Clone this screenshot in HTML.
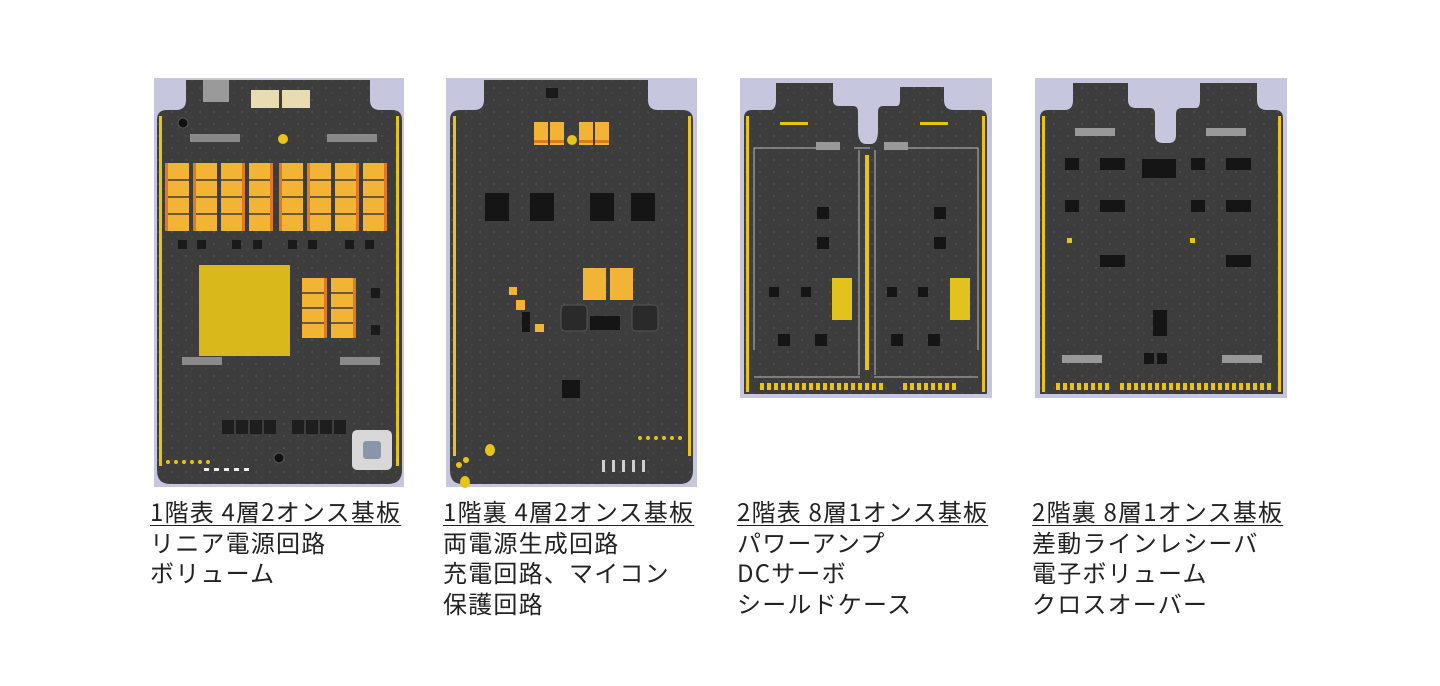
<!DOCTYPE html>
<html><head><meta charset="utf-8"><style>
body{margin:0;width:1440px;height:686px;background:#fff;overflow:hidden;position:relative;font-family:"Noto Sans CJK JP","Liberation Sans",sans-serif;}
.cap{position:absolute;top:496px;font-size:24px;line-height:30.5px;letter-spacing:1.2px;color:#222;white-space:nowrap;}
.cap u{text-decoration:underline;text-underline-offset:4px;text-decoration-thickness:1px;}
svg{position:absolute;left:0;top:0}
</style></head><body>
<svg width="1440" height="686" viewBox="0 0 1440 686">
<defs>
<pattern id="dots" width="14" height="12" patternUnits="userSpaceOnUse"><rect x="3" y="3" width="2" height="2" fill="#6a6a6a"/><rect x="9" y="8" width="2" height="2" fill="#505050"/></pattern>
</defs>
<!-- Board 1 -->
<rect x="154" y="78" width="250" height="409" fill="#c6c6de"/>
<path d="M186 80 H370 V100 Q370 110 380 110 H392 Q402 110 402 120 V470 Q402 484 388 484 H170 Q157 484 157 470 V120 Q157 110 167 110 H176 Q186 110 186 100 Z" fill="#3d3d3d"/>
<path d="M186 80 H370 V100 Q370 110 380 110 H392 Q402 110 402 120 V470 Q402 484 388 484 H170 Q157 484 157 470 V120 Q157 110 167 110 H176 Q186 110 186 100 Z" fill="url(#dots)" opacity=".3"/>
<rect x="159" y="116" width="3" height="350" fill="#e8c414"/><rect x="396" y="116" width="3" height="350" fill="#e8c414"/>
<rect x="203" y="80" width="26" height="22" fill="#9a9a9a"/>
<rect x="251" y="90" width="28" height="18" fill="#e8dcb0"/><rect x="282" y="90" width="28" height="18" fill="#e8dcb0"/>
<circle cx="183" cy="123" r="5" fill="#111" stroke="#555"/>
<circle cx="283" cy="139" r="5" fill="#e8c414"/>
<rect x="190" y="134" width="50" height="8" fill="#8a8a8a"/><rect x="327" y="134" width="50" height="8" fill="#8a8a8a"/>
<g fill="#f3b436">
<rect x="165" y="163" width="24" height="68"/><rect x="193" y="163" width="24" height="68"/><rect x="221" y="163" width="24" height="68"/><rect x="249" y="163" width="24" height="68"/>
<rect x="279" y="163" width="24" height="68"/><rect x="307" y="163" width="24" height="68"/><rect x="335" y="163" width="24" height="68"/><rect x="363" y="163" width="24" height="68"/>
<rect x="302" y="278" width="25" height="60"/><rect x="331" y="278" width="25" height="60"/>
</g>
<g stroke="#3d3d3d" stroke-width="1.5"><path d="M165 180H387M165 197H387M165 214H387M302 293H356M302 308H356M302 323H356"/></g>
<g fill="#e07a20"><rect x="165" y="163" width="3" height="68"/><rect x="193" y="163" width="3" height="68"/><rect x="242" y="163" width="3" height="68"/><rect x="270" y="163" width="3" height="68"/><rect x="279" y="163" width="3" height="68"/><rect x="307" y="163" width="3" height="68"/><rect x="356" y="163" width="3" height="68"/><rect x="384" y="163" width="3" height="68"/><rect x="324" y="278" width="3" height="60"/><rect x="353" y="278" width="3" height="60"/></g>
<g fill="#1a1a1a"><rect x="178" y="240" width="9" height="9"/><rect x="197" y="240" width="9" height="9"/><rect x="232" y="240" width="9" height="9"/><rect x="253" y="240" width="9" height="9"/><rect x="288" y="240" width="9" height="9"/><rect x="308" y="240" width="9" height="9"/><rect x="345" y="240" width="9" height="9"/><rect x="365" y="240" width="9" height="9"/><rect x="371" y="288" width="9" height="10"/><rect x="371" y="325" width="9" height="10"/></g>
<rect x="199" y="265" width="91" height="91" fill="#d9b81c"/>
<rect x="182" y="357" width="40" height="8" fill="#8a8a8a"/><rect x="340" y="357" width="40" height="8" fill="#8a8a8a"/>
<g fill="#1e1e1e"><rect x="222" y="420" width="12" height="14"/><rect x="236" y="420" width="12" height="14"/><rect x="250" y="420" width="12" height="14"/><rect x="264" y="420" width="12" height="14"/><rect x="292" y="420" width="12" height="14"/><rect x="306" y="420" width="12" height="14"/><rect x="320" y="420" width="12" height="14"/><rect x="334" y="420" width="12" height="14"/></g>
<circle cx="279" cy="458" r="5" fill="#111" stroke="#555"/>
<rect x="352" y="430" width="40" height="40" rx="5" fill="#d8d8d8"/><rect x="363" y="441" width="18" height="18" rx="3" fill="#8896a8"/>
<g fill="#e8c414"><circle cx="168" cy="462" r="2"/><circle cx="176" cy="462" r="2"/><circle cx="184" cy="462" r="2"/><circle cx="192" cy="462" r="2"/><circle cx="200" cy="462" r="2"/><circle cx="208" cy="462" r="2"/></g>
<g fill="#eee"><rect x="204" y="468" width="5" height="3"/><rect x="214" y="468" width="5" height="3"/><rect x="224" y="468" width="5" height="3"/><rect x="234" y="468" width="5" height="3"/><rect x="244" y="468" width="5" height="3"/></g>

<!-- Board 2 -->
<rect x="446" y="78" width="251" height="409" fill="#c6c6de"/>
<path d="M484 80 H648 V100 Q648 110 658 110 H682 Q693 110 693 120 V470 Q693 484 680 484 H462 Q450 484 450 470 V120 Q450 110 460 110 H474 Q484 110 484 100 Z" fill="#3d3d3d"/>
<path d="M484 80 H648 V100 Q648 110 658 110 H682 Q693 110 693 120 V470 Q693 484 680 484 H462 Q450 484 450 470 V120 Q450 110 460 110 H474 Q484 110 484 100 Z" fill="url(#dots)" opacity=".3"/>
<rect x="453" y="116" width="3" height="340" fill="#e8c414"/><rect x="688" y="116" width="3" height="340" fill="#e8c414"/>
<g fill="#f3b436"><rect x="534" y="122" width="14" height="23"/><rect x="550" y="122" width="14" height="23"/><rect x="579" y="122" width="14" height="23"/><rect x="595" y="122" width="14" height="23"/><rect x="583" y="268" width="23" height="32"/><rect x="610" y="268" width="23" height="32"/><rect x="516" y="300" width="9" height="10"/><rect x="509" y="287" width="8" height="8"/><rect x="535" y="324" width="9" height="8"/></g>
<g fill="#e07a20"><rect x="534" y="140" width="14" height="3"/><rect x="550" y="140" width="14" height="3"/><rect x="579" y="140" width="14" height="3"/><rect x="595" y="140" width="14" height="3"/></g>
<circle cx="572" cy="140" r="5" fill="#e8c414"/>
<rect x="546" y="88" width="12" height="10" fill="#1a1a1a"/>
<g fill="#151515"><rect x="485" y="193" width="24" height="28"/><rect x="530" y="193" width="24" height="28"/><rect x="590" y="193" width="24" height="28"/><rect x="631" y="193" width="24" height="28"/><rect x="590" y="316" width="30" height="14"/><rect x="562" y="380" width="18" height="18"/><rect x="522" y="312" width="8" height="20"/></g>
<rect x="561" y="305" width="26" height="26" rx="4" fill="#2a2a2a" stroke="#555"/><rect x="632" y="305" width="26" height="26" rx="4" fill="#2a2a2a" stroke="#555"/>
<g fill="#e8c414"><circle cx="459" cy="465" r="3"/><circle cx="466" cy="460" r="3"/><ellipse cx="490" cy="450" rx="5" ry="6"/><ellipse cx="465" cy="482" rx="5" ry="6"/><circle cx="640" cy="438" r="2"/><circle cx="648" cy="438" r="2"/><circle cx="656" cy="438" r="2"/><circle cx="664" cy="438" r="2"/><circle cx="672" cy="438" r="2"/><circle cx="680" cy="438" r="2"/></g>
<g fill="#cfcfcf"><rect x="602" y="460" width="3" height="12"/><rect x="612" y="460" width="3" height="12"/><rect x="622" y="460" width="3" height="12"/><rect x="632" y="460" width="3" height="12"/><rect x="642" y="460" width="3" height="12"/></g>

<!-- Board 3 -->
<rect x="740" y="78" width="252" height="320" fill="#c6c6de"/>
<path d="M776 83 H833 V100 Q833 106 839 106 H853 Q858 106 858 112 V130 Q858 144 866 144 H871 Q878 144 878 130 V112 Q878 106 883 106 H897 Q900 106 900 100 V87 H944 V100 Q944 110 954 110 H980 Q987 110 987 118 V394 H744 V118 Q744 110 752 110 H770 Q776 110 776 100 Z" fill="#3d3d3d"/>
<path d="M776 83 H833 V100 Q833 106 839 106 H853 Q858 106 858 112 V130 Q858 144 866 144 H871 Q878 144 878 130 V112 Q878 106 883 106 H897 Q900 106 900 100 V87 H944 V100 Q944 110 954 110 H980 Q987 110 987 118 V394 H744 V118 Q744 110 752 110 H770 Q776 110 776 100 Z" fill="url(#dots)" opacity=".3"/>
<rect x="746" y="116" width="3" height="276" fill="#e8c414"/><rect x="982" y="116" width="3" height="276" fill="#e8c414"/>
<g fill="none" stroke="#bbb" stroke-width="1"><path d="M754 350V148H818M854 148H870M900 148H978V350M754 377H860M874 377H978M859 150V375M875 150V375"/></g>
<rect x="865" y="155" width="4" height="215" fill="#e8c414"/>
<rect x="832" y="278" width="20" height="42" fill="#e2c21c"/><rect x="950" y="278" width="20" height="42" fill="#e2c21c"/>
<g fill="#151515"><rect x="817" y="207" width="12" height="12"/><rect x="817" y="237" width="12" height="12"/><rect x="934" y="207" width="12" height="12"/><rect x="934" y="237" width="12" height="12"/><rect x="769" y="287" width="10" height="10"/><rect x="801" y="287" width="10" height="10"/><rect x="887" y="287" width="10" height="10"/><rect x="918" y="287" width="10" height="10"/><rect x="778" y="334" width="12" height="12"/><rect x="815" y="334" width="12" height="12"/><rect x="891" y="334" width="12" height="12"/><rect x="928" y="334" width="12" height="12"/></g>
<g fill="#999"><rect x="816" y="142" width="24" height="8"/><rect x="884" y="142" width="24" height="8"/></g>
<g fill="#e8c414"><rect x="780" y="122" width="28" height="3"/><rect x="920" y="122" width="28" height="3"/></g>
<g fill="#e8c414">
<rect x="760" y="383" width="4" height="7"/><rect x="767" y="383" width="4" height="7"/><rect x="774" y="383" width="4" height="7"/><rect x="781" y="383" width="4" height="7"/><rect x="788" y="383" width="4" height="7"/><rect x="795" y="383" width="4" height="7"/><rect x="802" y="383" width="4" height="7"/><rect x="809" y="383" width="4" height="7"/><rect x="816" y="383" width="4" height="7"/><rect x="823" y="383" width="4" height="7"/><rect x="830" y="383" width="4" height="7"/><rect x="837" y="383" width="4" height="7"/><rect x="844" y="383" width="4" height="7"/><rect x="851" y="383" width="4" height="7"/><rect x="858" y="383" width="4" height="7"/><rect x="865" y="383" width="4" height="7"/><rect x="872" y="383" width="4" height="7"/><rect x="879" y="383" width="4" height="7"/>
<rect x="903" y="383" width="4" height="7"/><rect x="910" y="383" width="4" height="7"/><rect x="917" y="383" width="4" height="7"/><rect x="924" y="383" width="4" height="7"/><rect x="931" y="383" width="4" height="7"/><rect x="938" y="383" width="4" height="7"/><rect x="945" y="383" width="4" height="7"/><rect x="952" y="383" width="4" height="7"/></g>

<!-- Board 4 -->
<rect x="1035" y="78" width="252" height="320" fill="#c6c6de"/>
<path d="M1073 83 H1128 V100 Q1128 108 1136 108 H1150 Q1155 108 1155 114 V135 Q1155 143 1163 143 H1169 Q1176 143 1176 135 V114 Q1176 108 1182 108 H1196 Q1200 108 1200 100 V83 H1257 V100 Q1257 110 1267 110 H1275 Q1283 110 1283 118 V394 H1040 V118 Q1040 110 1048 110 H1065 Q1073 110 1073 100 Z" fill="#3d3d3d"/>
<path d="M1073 83 H1128 V100 Q1128 108 1136 108 H1150 Q1155 108 1155 114 V135 Q1155 143 1163 143 H1169 Q1176 143 1176 135 V114 Q1176 108 1182 108 H1196 Q1200 108 1200 100 V83 H1257 V100 Q1257 110 1267 110 H1275 Q1283 110 1283 118 V394 H1040 V118 Q1040 110 1048 110 H1065 Q1073 110 1073 100 Z" fill="url(#dots)" opacity=".3"/>
<rect x="1042" y="116" width="3" height="276" fill="#e8c414"/><rect x="1278" y="116" width="3" height="276" fill="#e8c414"/>
<g fill="#999"><rect x="1075" y="128" width="40" height="8"/><rect x="1206" y="128" width="40" height="8"/><rect x="1062" y="355" width="40" height="8"/><rect x="1222" y="355" width="40" height="8"/></g>
<g fill="#151515"><rect x="1142" y="159" width="34" height="19"/><rect x="1065" y="158" width="14" height="12"/><rect x="1100" y="158" width="25" height="12"/><rect x="1191" y="158" width="14" height="12"/><rect x="1226" y="158" width="25" height="12"/><rect x="1065" y="200" width="14" height="12"/><rect x="1100" y="200" width="25" height="12"/><rect x="1191" y="200" width="14" height="12"/><rect x="1226" y="200" width="25" height="12"/><rect x="1100" y="255" width="25" height="12"/><rect x="1226" y="255" width="25" height="12"/><rect x="1153" y="310" width="14" height="26"/><rect x="1144" y="353" width="10" height="11"/><rect x="1157" y="353" width="10" height="11"/></g>
<g fill="#e8c414"><rect x="1067" y="238" width="5" height="5"/><rect x="1190" y="238" width="5" height="5"/></g>
<g fill="#e8c414">
<rect x="1056" y="383" width="4" height="7"/><rect x="1063" y="383" width="4" height="7"/><rect x="1070" y="383" width="4" height="7"/><rect x="1077" y="383" width="4" height="7"/><rect x="1084" y="383" width="4" height="7"/><rect x="1091" y="383" width="4" height="7"/><rect x="1098" y="383" width="4" height="7"/><rect x="1105" y="383" width="4" height="7"/>
<rect x="1120" y="383" width="4" height="7"/><rect x="1127" y="383" width="4" height="7"/><rect x="1134" y="383" width="4" height="7"/><rect x="1141" y="383" width="4" height="7"/><rect x="1148" y="383" width="4" height="7"/><rect x="1155" y="383" width="4" height="7"/><rect x="1162" y="383" width="4" height="7"/><rect x="1169" y="383" width="4" height="7"/><rect x="1176" y="383" width="4" height="7"/><rect x="1183" y="383" width="4" height="7"/><rect x="1190" y="383" width="4" height="7"/><rect x="1197" y="383" width="4" height="7"/><rect x="1204" y="383" width="4" height="7"/><rect x="1211" y="383" width="4" height="7"/><rect x="1218" y="383" width="4" height="7"/><rect x="1225" y="383" width="4" height="7"/><rect x="1232" y="383" width="4" height="7"/><rect x="1239" y="383" width="4" height="7"/><rect x="1246" y="383" width="4" height="7"/><rect x="1253" y="383" width="4" height="7"/><rect x="1260" y="383" width="4" height="7"/><rect x="1267" y="383" width="4" height="7"/></g>
</svg>
<div class="cap" style="left:150px"><u>1階表 4層2オンス基板</u><br>リニア電源回路<br>ボリューム</div>
<div class="cap" style="left:443px"><u>1階裏 4層2オンス基板</u><br>両電源生成回路<br>充電回路、マイコン<br>保護回路</div>
<div class="cap" style="left:737px"><u>2階表 8層1オンス基板</u><br>パワーアンプ<br>DCサーボ<br>シールドケース</div>
<div class="cap" style="left:1032px"><u>2階裏 8層1オンス基板</u><br>差動ラインレシーバ<br>電子ボリューム<br>クロスオーバー</div>
</body></html>
